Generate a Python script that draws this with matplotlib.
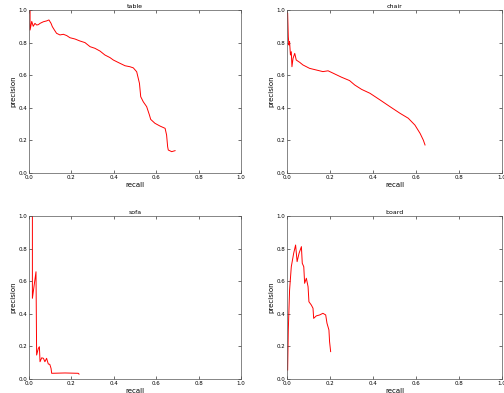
import matplotlib
matplotlib.use("Agg")
import matplotlib.pyplot as plt

# precision / recall curves
table_recall = [0.005, 0.005, 0.013, 0.02, 0.028, 0.036, 0.044, 0.052, 0.068, 0.083, 0.094,
                0.104, 0.11, 0.12, 0.13, 0.146, 0.162, 0.178, 0.193, 0.217, 0.24, 0.264,
                0.288, 0.311, 0.335, 0.358, 0.382, 0.398, 0.429, 0.453, 0.476, 0.492, 0.508,
                0.521, 0.527, 0.539, 0.555, 0.568, 0.574, 0.594, 0.618, 0.642, 0.649, 0.654,
                0.657, 0.673, 0.689]
table_precision = [1.0, 0.877, 0.93, 0.90, 0.918, 0.908, 0.91, 0.918, 0.928, 0.933, 0.939,
                   0.918, 0.898, 0.877, 0.857, 0.847, 0.851, 0.843, 0.83, 0.822, 0.81, 0.80,
                   0.775, 0.765, 0.748, 0.724, 0.708, 0.693, 0.673, 0.658, 0.652, 0.645, 0.621,
                   0.55, 0.468, 0.437, 0.407, 0.356, 0.329, 0.305, 0.288, 0.274, 0.233, 0.161,
                   0.141, 0.131, 0.137]

chair_recall = [0.003, 0.006, 0.009, 0.012, 0.016, 0.02, 0.023, 0.028, 0.036, 0.043, 0.059,
                0.074, 0.105, 0.136, 0.167, 0.191, 0.215, 0.253, 0.291, 0.315, 0.347, 0.386,
                0.433, 0.479, 0.526, 0.564, 0.595, 0.619, 0.634, 0.642]
chair_precision = [0.98, 0.836, 0.785, 0.806, 0.724, 0.744, 0.652, 0.703, 0.734, 0.693, 0.679,
                   0.663, 0.642, 0.632, 0.622, 0.627, 0.612, 0.588, 0.567, 0.54, 0.513, 0.489,
                   0.448, 0.407, 0.366, 0.336, 0.294, 0.243, 0.202, 0.172]

sofa_recall = [0.016, 0.016, 0.033, 0.036, 0.044, 0.049, 0.052, 0.06, 0.068, 0.075, 0.083,
               0.091, 0.098, 0.104, 0.107, 0.17, 0.232, 0.236]
sofa_precision = [1.0, 0.495, 0.658, 0.147, 0.188, 0.198, 0.106, 0.13, 0.127, 0.106, 0.127,
                  0.092, 0.09, 0.065, 0.035, 0.037, 0.035, 0.03]

board_recall = [0.003, 0.006, 0.012, 0.02, 0.031, 0.04, 0.047, 0.056, 0.067, 0.071, 0.078,
                0.082, 0.09, 0.098, 0.102, 0.113, 0.121, 0.124, 0.136, 0.152, 0.167, 0.18,
                0.186, 0.195, 0.198, 0.203]
board_precision = [0.055, 0.30, 0.546, 0.689, 0.771, 0.822, 0.72, 0.771, 0.812, 0.71, 0.689,
                   0.587, 0.618, 0.566, 0.474, 0.454, 0.434, 0.372, 0.387, 0.393, 0.403, 0.393,
                   0.342, 0.301, 0.229, 0.168]

titles = ["table", "chair", "sofa", "board"]
curves = [(table_recall, table_precision), (chair_recall, chair_precision),
          (sofa_recall, sofa_precision), (board_recall, board_precision)]
ticks = [0.0, 0.2, 0.4, 0.6, 0.8, 1.0]

plt.rcParams["xtick.direction"] = "in"
plt.rcParams["ytick.direction"] = "in"
plt.rcParams["xtick.top"] = True
plt.rcParams["ytick.right"] = True

fig = plt.figure(figsize=(5.04, 3.93), dpi=100)
W, H = 504.0, 393.0
# axes boxes in pixels: left, top, right, bottom
boxes = [(29, 10, 241, 173), (287, 10, 502, 173), (29, 216, 241, 379), (287, 216, 502, 379)]

for (l, t, r, b), title, (rec, prec) in zip(boxes, titles, curves):
    ax = fig.add_axes([l / W, (H - b) / H, (r - l) / W, (b - t) / H])
    ax.plot(rec, prec, color="red", lw=0.7)
    ax.set_xlim(0, 1)
    ax.set_ylim(0, 1)
    ax.set_xticks(ticks)
    ax.set_yticks(ticks)
    ax.tick_params(labelsize=4, length=2, width=0.4, pad=1.5)
    ax.set_title(title, fontsize=4.5, pad=1.5)
    ax.set_xlabel("recall", fontsize=5, labelpad=1.5)
    ax.set_ylabel("precision", fontsize=5, labelpad=1.5)
    for s in ax.spines.values():
        s.set_linewidth(0.5)
        s.set_color("#555555")

fig.savefig("out.png", dpi=100)
